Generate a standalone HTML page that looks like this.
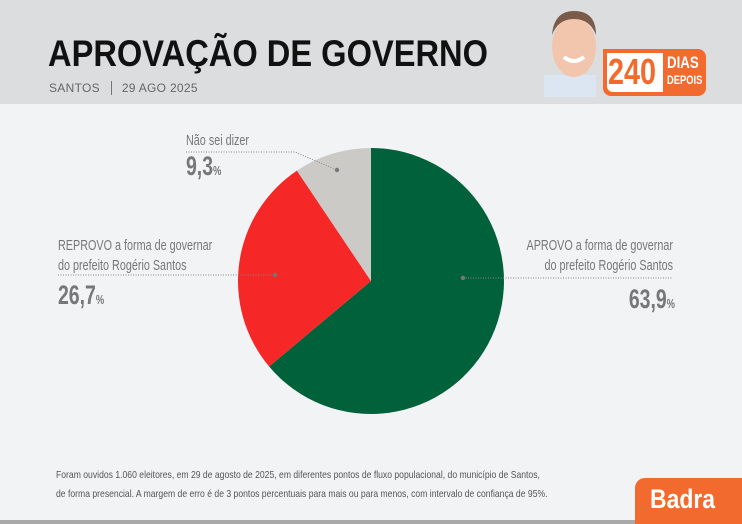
<!DOCTYPE html>
<html><head><meta charset="utf-8"><style>
*{margin:0;padding:0;box-sizing:border-box}
body{width:742px;height:524px;overflow:hidden;background:#f2f3f5;position:relative;font-family:"Liberation Sans",sans-serif;color:#707070}
.hdr{position:absolute;left:0;top:0;width:742px;height:104px;background:#dcdddf}
.t{position:absolute;left:48px;top:33px;font-weight:bold;font-size:37px;color:#111;transform:scaleX(0.882);transform-origin:left top;white-space:nowrap}
.sub{position:absolute;left:49px;top:81px;font-size:12px;color:#666;letter-spacing:0.3px}
.ab{position:absolute;white-space:nowrap}
.c{transform:scaleX(0.72);transform-origin:left top}
.cr{transform:scaleX(0.72);transform-origin:right top}
.lab{font-size:15px;line-height:20px;color:#777}
.pct{font-size:27px;font-weight:bold;color:#777}
.pct small{font-size:13px}
.note{position:absolute;left:56px;top:466px;font-size:10.5px;line-height:19px;color:#555;white-space:nowrap;transform:scaleX(0.82);transform-origin:left top}
</style></head><body>
<div class="hdr"></div>
<div class="t">APROVAÇÃO DE GOVERNO</div>
<div class="sub">SANTOS &nbsp;&nbsp;<span style="border-left:1px solid #777;margin-right:10px"></span>29 AGO 2025</div>
<svg class="ab" style="left:540px;top:5px" width="70" height="92">
<rect x="4" y="70" width="52" height="22" fill="#dbe6f2"/>
<ellipse cx="34" cy="42" rx="22" ry="30" fill="#f2c6ad"/>
<path d="M12 30 Q14 6 34 6 Q56 6 56 30 Q50 14 34 14 Q18 14 12 30Z" fill="#7a5a48"/>
<path d="M24 52 Q34 60 44 52" stroke="#fff" stroke-width="4" fill="none"/>
</svg>
<div class="ab" style="left:603px;top:49px;width:103px;height:47px;background:#f26a2e;border-radius:0 8px 8px 8px"></div>
<div class="ab" style="left:607px;top:53px;width:56px;height:39px;background:#fff;border-radius:0 0 0 6px"></div>
<div class="ab c" style="left:608px;top:51px;font-weight:bold;font-size:36px;color:#f26a2e;transform:scaleX(0.8)">240</div>
<div class="ab c" style="left:667px;top:55px;font-weight:bold;font-size:17px;color:#fff;line-height:16px;transform:scaleX(0.78)">DIAS<br><span style="font-size:12px">DEPOIS</span></div>
<svg class="ab" style="left:0;top:0" width="742" height="524">
<path d="M371 281 L371 148 A133 133 0 1 1 269.1 366.5Z" fill="#00613a"/>
<path d="M371 281 L269.1 366.5 A133 133 0 0 1 296.9 170.6Z" fill="#f52727"/>
<path d="M371 281 L296.9 170.6 A133 133 0 0 1 371 148Z" fill="#cccac7"/>
<g stroke="#888" stroke-width="1" stroke-dasharray="1 1.5" fill="none">
<path d="M186 152 L295 152 L337 170"/>
<path d="M58 275 L275 275"/>
<path d="M463 278 L673 278"/>
</g>
<g fill="#777"><circle cx="337" cy="170" r="2.2"/><circle cx="275" cy="275" r="2.2"/><circle cx="463" cy="278" r="2.2"/></g>
</svg>
<div class="ab lab c" style="left:186px;top:131px">Não sei dizer</div>
<div class="ab pct c" style="left:186px;top:151px">9,3<small>%</small></div>
<div class="ab lab c" style="left:58px;top:236px">REPROVO a forma de governar<br>do prefeito Rogério Santos</div>
<div class="ab pct c" style="left:58px;top:280px">26,7<small>%</small></div>
<div class="ab lab cr" style="left:400px;top:236px;width:273px;text-align:right">APROVO a forma de governar<br>do prefeito Rogério Santos</div>
<div class="ab pct cr" style="left:473px;top:284px;width:202px;text-align:right">63,9<small>%</small></div>
<div class="note">Foram ouvidos 1.060 eleitores, em 29 de agosto de 2025, em diferentes pontos de fluxo populacional, do município de Santos,<br>de forma presencial. A margem de erro é de 3 pontos percentuais para mais ou para menos, com intervalo de confiança de 95%.</div>
<div class="ab" style="left:635px;top:478px;width:107px;height:46px;background:#f26a2e;border-radius:10px 0 0 0"></div>
<div class="ab c" style="left:650px;top:484px;font-weight:bold;font-size:27px;color:#fff;transform:scaleX(0.85)">Badra</div>
<div class="ab" style="left:0;top:520px;width:635px;height:4px;background:#a9a9a9"></div>
</body></html>
